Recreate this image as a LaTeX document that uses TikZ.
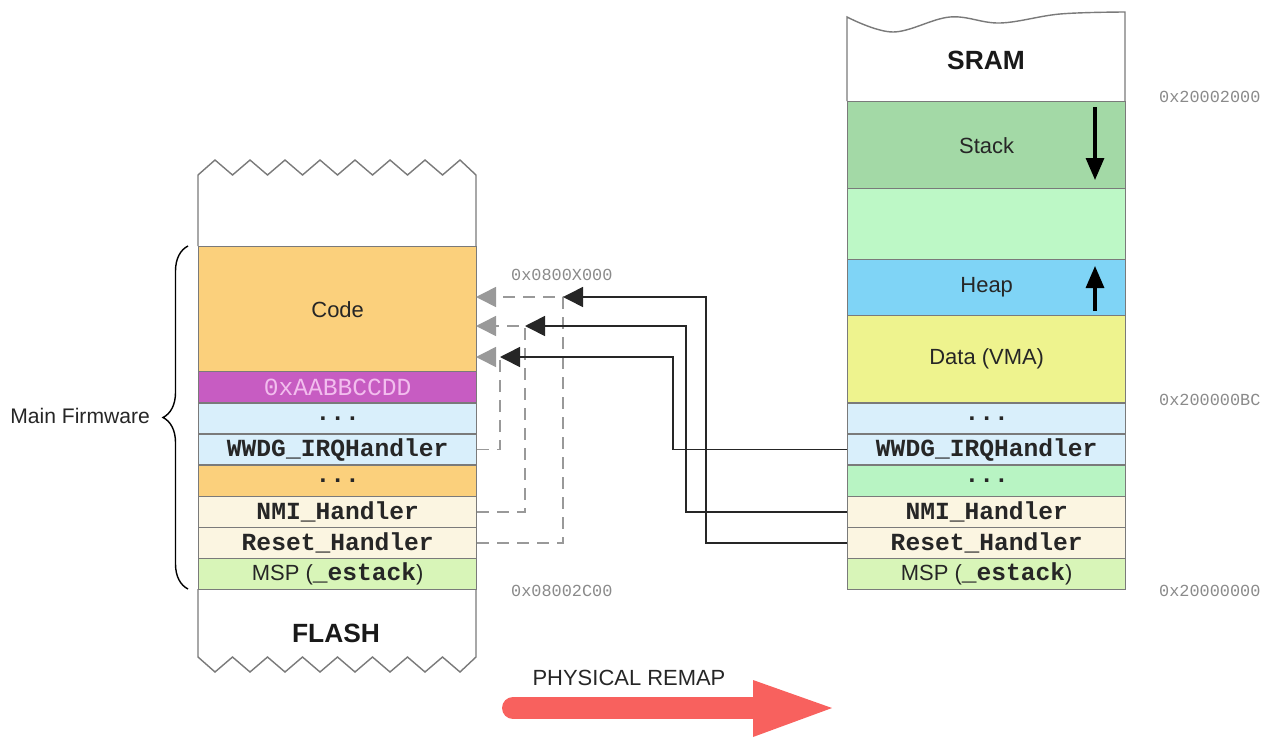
\documentclass[tikz,border=0pt]{standalone}
\usepackage{fontspec}
\setmainfont{Liberation Sans}
\setmonofont{Liberation Mono}
\usepackage{tikz}
\usetikzlibrary{arrows.meta,decorations.pathreplacing}

\definecolor{edgegray}{HTML}{7A7A7A}
\definecolor{addrgray}{HTML}{8A8A8A}
\definecolor{codeorange}{HTML}{FBD07C}
\definecolor{magicpink}{HTML}{C75CC2}
\definecolor{magictext}{HTML}{F2BDEE}
\definecolor{vecblue}{HTML}{D9EFFB}
\definecolor{handcream}{HTML}{FBF5E1}
\definecolor{mspgreen}{HTML}{D8F5B8}
\definecolor{stackgreen}{HTML}{A3D9A6}
\definecolor{freegreen}{HTML}{BDF8C6}
\definecolor{heapblue}{HTML}{7FD4F6}
\definecolor{datayellow}{HTML}{EEF38E}
\definecolor{bssgreen}{HTML}{B8F4C3}
\definecolor{remapred}{HTML}{F8615E}

\newcommand{\codefnt}{\ttfamily\bfseries\fontsize{14}{16}\selectfont}
\newcommand{\labelfnt}{\fontsize{12.5}{14}\selectfont}
\newcommand{\addrfnt}{\ttfamily\fontsize{9.6}{11}\selectfont}

\begin{document}
\begin{tikzpicture}[x=0.02cm, y=-0.02cm,
    cell/.style={draw=edgegray, line width=0.8pt, minimum width=5.56cm, minimum height=0.623cm, inner sep=0pt, anchor=north west, text=black!85},
    codecell/.style={cell, font=\codefnt},
    textcell/.style={cell, font=\labelfnt},
    addr/.style={anchor=west, font=\addrfnt, text=addrgray},
    title/.style={font=\bfseries\fontsize{15}{17}\selectfont, text=black!90},
    link/.style={-{Triangle[length=0.4cm, width=0.4cm]}, line width=0.9pt, black!85},
    ghost/.style={-{Triangle[length=0.4cm, width=0.4cm]}, line width=0.9pt, black!40, dash pattern=on 0.24cm off 0.16cm},
    growarrow/.style={-{Triangle[length=0.44cm, width=0.36cm]}, line width=1.8pt, black}
]
    \useasboundingbox (0,0) rectangle (1270,737);

    % FLASH
    \filldraw[fill=white, draw=edgegray, line width=0.8pt] (198,246) -- (198,175)
        \foreach \k in {0,...,6} { -- (215+35*\k,160) -- (232.5+35*\k,175) }
        -- (460,160) -- (476,175) -- (476,246);
    \filldraw[fill=white, draw=edgegray, line width=0.8pt] (198,589) -- (198,657)
        \foreach \k in {0,...,6} { -- (215+35*\k,672) -- (232.5+35*\k,657) }
        -- (460,672) -- (476,657) -- (476,589);
    \node[title] (flash) at (336,633) {FLASH};

    \node[textcell, fill=codeorange, minimum height=2.5cm] (code) at (198,246) {Code};
    \node[cell, fill=magicpink, font=\ttfamily\fontsize{14}{16}\selectfont, text=magictext] (magic) at (198,371) {0xAABBCCDD};
    \node[codecell, fill=vecblue] (fdotsA) at (198,402.1) {...};
    \node[codecell, fill=vecblue] (fwwdg) at (198,433.3) {WWDG\_IRQHandler};
    \node[codecell, fill=codeorange] (fdotsB) at (198,464.4) {...};
    \node[codecell, fill=handcream] (fnmi) at (198,495.6) {NMI\_Handler};
    \node[codecell, fill=handcream] (freset) at (198,526.7) {Reset\_Handler};
    \node[textcell, fill=mspgreen] (fmsp) at (198,557.8) {MSP ({\codefnt\_estack})};

    \node[addr] (flashtop) at (505,275) {0x0800X000};
    \node[addr] (flashbase) at (505,591) {0x08002C00};

    % brace
    \coordinate (braceTop) at (188,246);
    \coordinate (braceBot) at (188,589);
    \draw[decorate, decoration={brace, amplitude=0.5cm}, line width=0.8pt] (braceBot) -- (braceTop);
    \node[anchor=east, font=\fontsize{12}{14}\selectfont, text=black!85] (fwlabel) at (156,416) {Main Firmware};

    % SRAM
    \filldraw[fill=white, draw=edgegray, line width=0.8pt] (847,101) --
        plot[smooth, tension=0.6] coordinates {(847,17) (893,32) (950,17) (1000,23) (1060,14) (1125,12)}
        -- (1125,101);
    \node[title] (sram) at (986,60) {SRAM};

    \node[textcell, fill=stackgreen, minimum height=1.74cm] (stack) at (847,101) {Stack};
    \node[cell, fill=freegreen, minimum height=1.42cm] (freeram) at (847,188) {};
    \node[textcell, fill=heapblue, minimum height=1.12cm] (heap) at (847,259) {Heap};
    \node[textcell, fill=datayellow, minimum height=1.74cm] (data) at (847,315) {Data (VMA)};
    \node[codecell, fill=vecblue] (sdotsA) at (847,402.1) {...};
    \node[codecell, fill=vecblue] (swwdg) at (847,433.3) {WWDG\_IRQHandler};
    \node[codecell, fill=bssgreen] (sdotsB) at (847,464.4) {...};
    \node[codecell, fill=handcream] (snmi) at (847,495.6) {NMI\_Handler};
    \node[codecell, fill=handcream] (sreset) at (847,526.7) {Reset\_Handler};
    \node[textcell, fill=mspgreen] (smsp) at (847,557.8) {MSP ({\codefnt\_estack})};

    \draw[growarrow] (1095,107) -- (1095,180);
    \draw[growarrow] (1095,311) -- (1095,266);

    \node[addr] (sramtop) at (1153,97) {0x20002000};
    \node[addr] (sramdata) at (1153,400) {0x200000BC};
    \node[addr] (srambase) at (1153,591) {0x20000000};

    % vector links
    \coordinate (bendR) at (563,297);
    \coordinate (bendN) at (525,326);
    \coordinate (bendW) at (500,357);
    \coordinate (tipR) at (476,297);
    \coordinate (tipN) at (476,326);
    \coordinate (tipW) at (476,357);

    \draw[ghost] (freset.east) -| (bendR) -- (tipR);
    \draw[ghost] (fnmi.east) -| (bendN) -- (tipN);
    \draw[ghost] (fwwdg.east) -| (bendW) -- (tipW);

    \draw[link] (sreset.west) -- ++(-141,0) |- (bendR);
    \draw[link] (snmi.west) -- ++(-161,0) |- (bendN);
    \draw[link] (swwdg.west) -- ++(-174,0) |- (bendW);

    % remap arrow
    \node[font=\fontsize{12.5}{14}\selectfont, text=black!85] (remaplabel) at (629,678) {PHYSICAL REMAP};
    \draw[remapred, line width=12.5pt, line cap=round] (513,708) -- (760,708);
    \fill[remapred] (753,680) -- (832,708) -- (753,737) -- cycle;
\end{tikzpicture}
\end{document}
